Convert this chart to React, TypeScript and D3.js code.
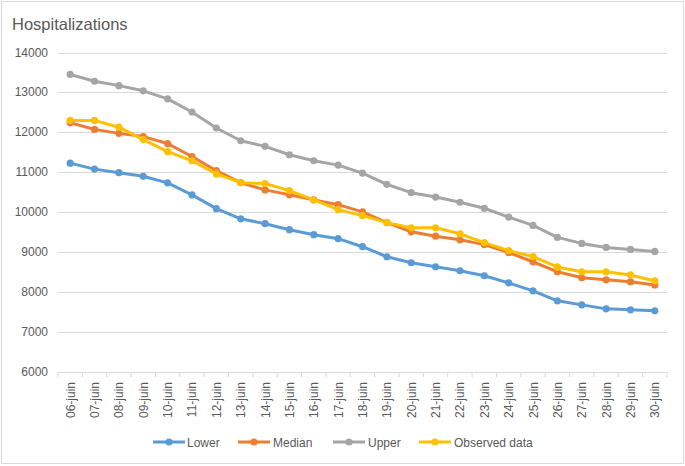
import React from "react";
import * as d3 from "d3";

const categories = ["06-juin","07-juin","08-juin","09-juin","10-juin","11-juin","12-juin","13-juin","14-juin","15-juin","16-juin","17-juin","18-juin","19-juin","20-juin","21-juin","22-juin","23-juin","24-juin","25-juin","26-juin","27-juin","28-juin","29-juin","30-juin"];
const lower = [11230,11080,10990,10900,10735,10434,10090,9835,9714,9563,9438,9338,9137,8886,8735,8635,8535,8410,8233,8033,7782,7681,7581,7556,7531];
const median = [12240,12075,11975,11895,11720,11395,11040,10740,10560,10440,10310,10190,10010,9740,9510,9400,9310,9190,8990,8760,8510,8360,8310,8260,8180];
const upper = [13450,13280,13170,13040,12840,12510,12110,11790,11650,11440,11290,11180,10980,10700,10490,10380,10250,10100,9880,9670,9370,9220,9120,9070,9020];
const observed = [12300,12300,12130,11820,11520,11290,10960,10740,10720,10540,10310,10065,9915,9740,9610,9610,9460,9240,9040,8890,8630,8510,8510,8430,8280];
const yTicks = [6000,7000,8000,9000,10000,11000,12000,13000,14000];

const seriesList = [
  { name: "Lower", values: lower, color: "#5B9BD5" },
  { name: "Median", values: median, color: "#ED7D31" },
  { name: "Upper", values: upper, color: "#A5A5A5" },
  { name: "Observed data", values: observed, color: "#FFC000" },
];

const W = 685, H = 466;
const FONT = "'Liberation Sans', Arial, sans-serif";
const TEXT = "#595959";

export default function App() {
  const x = d3.scaleBand<string>().domain(categories).range([58, 667]);
  const y = d3.scaleLinear().domain([6000, 14000]).range([372, 52.5]);
  const cx = (c: string) => (x(c) as number) + x.bandwidth() / 2;
  const line = d3.line<number>().x((_, i) => cx(categories[i])).y(d => y(d));

  const legendItems = [
    { lx: 153, tx: 187 },
    { lx: 238, tx: 273 },
    { lx: 333, tx: 368 },
    { lx: 419, tx: 454 },
  ];
  const ly = 442;

  const boundaries = categories.map(c => x(c) as number).concat([667]);

  return (
    <svg width={W} height={H} style={{ position: "absolute", left: 0, top: 0, background: "#fff" }} fontFamily={FONT}>
      <rect x={0} y={0} width={W} height={H} fill="#fff" />
      <rect x={1.5} y={1.5} width={682} height={462} fill="none" stroke="#d9d9d9" strokeWidth={1} />
      <text x={12} y={30} fontSize={16.5} fill={TEXT}>Hospitalizations</text>
      {yTicks.map(t => (
        <g key={t}>
          <line x1={58} x2={667} y1={Math.round(y(t)) + 0.5} y2={Math.round(y(t)) + 0.5} stroke="#d9d9d9" strokeWidth={1} />
          <text x={48} y={y(t) + 4} fontSize={12} fill={TEXT} textAnchor="end">{t}</text>
        </g>
      ))}
      {boundaries.map((b, i) => (
        <line key={i} x1={b} x2={b} y1={372} y2={377} stroke="#d9d9d9" strokeWidth={1} />
      ))}
      {categories.map(c => (
        <text key={c} transform={`translate(${cx(c) + 4.5},382) rotate(-90)`} fontSize={12} fill={TEXT} textAnchor="end">{c}</text>
      ))}
      {seriesList.map(s => (
        <g key={s.name}>
          <path d={line(s.values) || ""} fill="none" stroke={s.color} strokeWidth={3} strokeLinejoin="round" strokeLinecap="round" />
          {s.values.map((v, i) => (
            <circle key={i} cx={cx(categories[i])} cy={y(v)} r={3.6} fill={s.color} />
          ))}
        </g>
      ))}
      {seriesList.map((s, i) => (
        <g key={s.name}>
          <line x1={legendItems[i].lx} x2={legendItems[i].lx + 32} y1={ly} y2={ly} stroke={s.color} strokeWidth={3} />
          <circle cx={legendItems[i].lx + 16} cy={ly} r={3.6} fill={s.color} />
          <text x={legendItems[i].tx} y={ly + 4.5} fontSize={12} fill={TEXT}>{s.name}</text>
        </g>
      ))}
    </svg>
  );
}
